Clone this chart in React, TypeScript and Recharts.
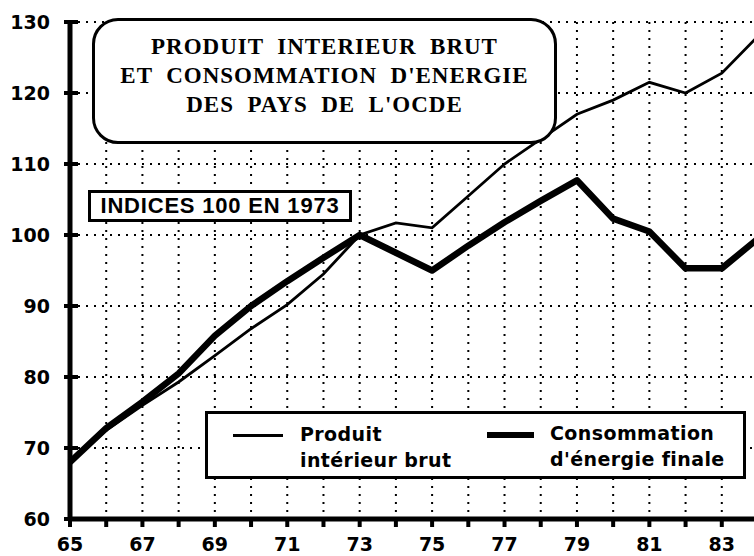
import React from 'react';
import { CartesianGrid, Line, LineChart, XAxis, YAxis } from 'recharts';

document.body.style.margin = '0';

const years = [65, 66, 67, 68, 69, 70, 71, 72, 73, 74, 75, 76, 77, 78, 79, 80, 81, 82, 83, 84];
const pib = [68, 72.5, 76, 79.3, 83, 86.8, 90.2, 94.5, 100, 101.7, 101, 105.5, 110, 113.5, 117, 119, 121.5, 120, 122.8, 128];
const energie = [68, 72.8, 76.5, 80.5, 85.8, 90, 93.5, 96.8, 100, 97.5, 95, 98.5, 101.8, 104.8, 107.7, 102.3, 100.5, 95.3, 95.3, 99.5];
const yTicks = [60, 70, 80, 90, 100, 110, 120, 130];
const xTicks = [65, 66, 67, 68, 69, 70, 71, 72, 73, 74, 75, 76, 77, 78, 79, 80, 81, 82, 83, 84];
const xLabels = ['65', '67', '69', '71', '73', '75', '77', '79', '81', '83'];

const titleLines = ['PRODUIT  INTERIEUR  BRUT', 'ET  CONSOMMATION  D\'ENERGIE', 'DES  PAYS  DE  L\'OCDE'];
const baseLabel = 'INDICES 100 EN 1973';
const legendPib = ['Produit', 'intérieur brut'];
const legendEnergie = ['Consommation', 'd\'énergie finale'];

const data = years.map((y, i) => ({ year: y, pib: pib[i], energie: energie[i] }));

const tickFont = '"DejaVu Sans", sans-serif';

const YTick = (props: any) => {
  const { x, y, payload } = props;
  return (
    <g>
      <line x1={x + 14} x2={x + 28} y1={y} y2={y} stroke="#000" strokeWidth={4} />
      <text x={x} y={y} dy={7} textAnchor="end" fontFamily={tickFont} fontWeight="bold" fontSize={19} fill="#000">
        {payload.value}
      </text>
    </g>
  );
};

const XTick = (props: any) => {
  const { x, y, payload } = props;
  const label = String(payload.value);
  return (
    <g>
      <line x1={x} x2={x} y1={y - 18} y2={y - 10} stroke="#000" strokeWidth={4} />
      {xLabels.includes(label) && (
        <text x={x} y={y} dy={14} textAnchor="middle" fontFamily={tickFont} fontWeight="bold" fontSize={19} fill="#000">
          {label}
        </text>
      )}
    </g>
  );
};

export default function App() {
  return (
    <div style={{ position: 'relative', width: 754, height: 556, overflow: 'hidden', background: '#fff' }}>
      <LineChart width={762} height={556} data={data} margin={{ top: 22, right: 4, left: 0, bottom: 0 }}>
        <CartesianGrid stroke="#000" strokeWidth={2} strokeDasharray="2 6" horizontalValues={yTicks} verticalValues={xTicks} />
        <XAxis
          dataKey="year"
          type="number"
          domain={[65, 84]}
          ticks={xTicks}
          interval={0}
          height={37}
          tickSize={0}
          tickMargin={18}
          tick={<XTick />}
          axisLine={{ stroke: '#000', strokeWidth: 5 }}
        />
        <YAxis
          type="number"
          domain={[60, 130]}
          ticks={yTicks}
          interval={0}
          width={70}
          tickSize={0}
          tickMargin={20}
          tick={<YTick />}
          axisLine={{ stroke: '#000', strokeWidth: 5 }}
        />
        <Line dataKey="pib" type="linear" stroke="#000" strokeWidth={2.8} dot={false} isAnimationActive={false} />
        <Line dataKey="energie" type="linear" stroke="#000" strokeWidth={6.5} dot={false} isAnimationActive={false} strokeLinejoin="round" />
      </LineChart>

      <div
        style={{
          position: 'absolute', left: 92, top: 18, width: 459, height: 109,
          border: '3px solid #000', borderRadius: 26, background: '#fff',
          fontFamily: '"Liberation Serif", serif', fontWeight: 'bold', fontSize: 23,
          textAlign: 'center', lineHeight: '29px', paddingTop: 11, boxSizing: 'content-box',
          letterSpacing: 1,
        }}
      >
        {titleLines.map((t) => (
          <div key={t} style={{ whiteSpace: 'pre' }}>{t}</div>
        ))}
      </div>

      <div
        style={{
          position: 'absolute', left: 88, top: 190, width: 258, height: 26,
          border: '3px solid #000', background: '#fff',
          fontFamily: '"Liberation Sans", sans-serif', fontWeight: 'bold', fontSize: 22,
          lineHeight: '26px', textAlign: 'center', whiteSpace: 'nowrap', letterSpacing: 0.8,
        }}
      >
        {baseLabel}
      </div>

      <div
        style={{
          position: 'absolute', left: 205, top: 411, width: 535, height: 62,
          border: '3px solid #000', background: '#fff',
          fontFamily: tickFont, fontWeight: 'bold', fontSize: 19, lineHeight: '26px', letterSpacing: 0.4,
        }}
      >
        <div style={{ position: 'absolute', left: 25, top: 20, width: 50, height: 3, background: '#000' }} />
        <div style={{ position: 'absolute', left: 92, top: 7 }}>
          {legendPib.map((t) => <div key={t}>{t}</div>)}
        </div>
        <div style={{ position: 'absolute', left: 279, top: 18, width: 47, height: 6, background: '#000' }} />
        <div style={{ position: 'absolute', left: 342, top: 6 }}>
          {legendEnergie.map((t) => <div key={t}>{t}</div>)}
        </div>
      </div>
    </div>
  );
}
